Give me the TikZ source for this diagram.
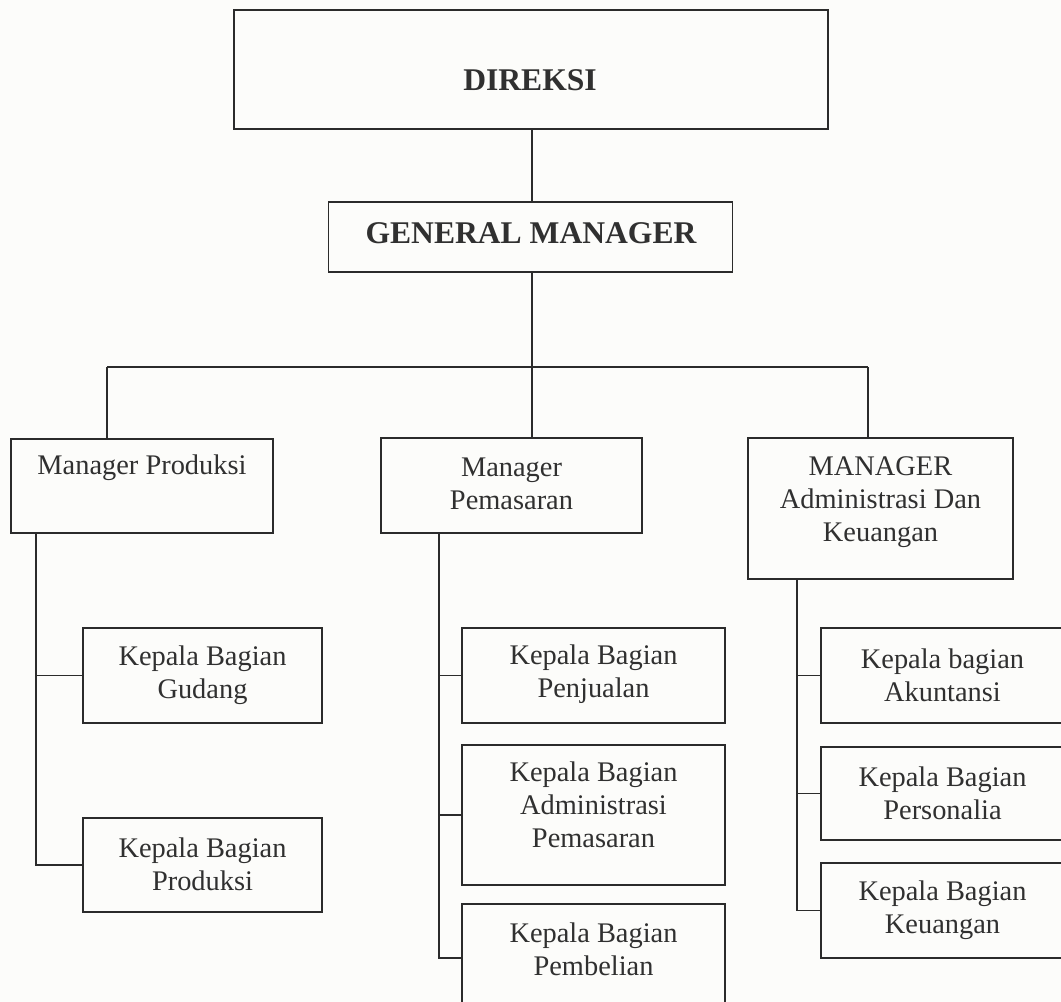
\documentclass[tikz,border=0pt]{standalone}
\usepackage{fontspec}
\setmainfont{Liberation Serif}
\definecolor{ink}{HTML}{2B2B2B}
\definecolor{txtc}{HTML}{303030}
\definecolor{paper}{HTML}{FCFCFA}
\begin{document}
\begin{tikzpicture}[x=0.5pt,y=-0.5pt,
  orgbox/.style={draw=ink, line width=0.9pt, inner sep=0pt, rectangle},
  conn/.style={draw=ink, line width=0.9pt},
  txt/.style={text=txtc, align=center, inner sep=0pt, font=\fontsize{14.2}{16.5}\selectfont},
  btxt/.style={text=txtc, align=center, inner sep=0pt, font=\fontsize{15.8}{18}\selectfont\bfseries}]
\useasboundingbox (0,0) rectangle (1061,1002);
\clip (0,0) rectangle (1061,1002);
\fill[paper] (0,0) rectangle (1061,1002);

% boxes
\node[orgbox, minimum width=297pt, minimum height=59.5pt] (dir) at (531,69.5) {};
\node[orgbox, minimum width=202pt, minimum height=35pt] (gm) at (530.5,237) {};
\node[orgbox, minimum width=131pt, minimum height=47pt] (mp) at (142,486) {};
\node[orgbox, minimum width=130.5pt, minimum height=47.5pt] (mpem) at (511.5,485.5) {};
\node[orgbox, minimum width=132.5pt, minimum height=70.5pt] (mak) at (880.5,508.5) {};
\node[orgbox, minimum width=119.5pt, minimum height=47.5pt] (gud) at (202.5,675.5) {};
\node[orgbox, minimum width=119.5pt, minimum height=47pt] (prod) at (202.5,865) {};
\node[orgbox, minimum width=131.5pt, minimum height=47.5pt] (penj) at (593.5,675.5) {};
\node[orgbox, minimum width=131.5pt, minimum height=70pt] (admp) at (593.5,815) {};
\node[orgbox, minimum width=131.5pt, minimum height=54pt] (pemb) at (593.5,958) {};
\node[orgbox, minimum width=121.5pt, minimum height=47.5pt] (akun) at (942.5,675.5) {};
\node[orgbox, minimum width=121.5pt, minimum height=46.5pt] (pers) at (942.5,793.5) {};
\node[orgbox, minimum width=121.5pt, minimum height=47.5pt] (keu) at (942.5,910.5) {};

% texts
\node[btxt] (dirT) at (530,80) {DIREKSI};
\node[btxt] (gmT) at (531,233) {GENERAL MANAGER};
\node[txt] (mpT) at (142,468) {Manager Produksi};
\node[txt] (mpemT) at (511.5,484) {Manager\\Pemasaran};
\node[txt] (makT) at (880.5,502) {MANAGER\\Administrasi Dan\\Keuangan};
\node[txt] (gudT) at (202.5,675) {Kepala Bagian\\Gudang};
\node[txt] (prodT) at (202.5,864) {Kepala Bagian\\Produksi};
\node[txt] (penjT) at (593.5,674) {Kepala Bagian\\Penjualan};
\node[txt] (admpT) at (593.5,805) {Kepala Bagian\\Administrasi\\Pemasaran};
\node[txt] (pembT) at (593.5,949) {Kepala Bagian\\Pembelian};
\node[txt] (akunT) at (942.5,675) {Kepala bagian\\Akuntansi};
\node[txt] (persT) at (942.5,793) {Kepala Bagian\\Personalia};
\node[txt] (keuT) at (942.5,910) {Kepala Bagian\\Keuangan};

% connector helper coordinates
\coordinate (busL) at (107,367);
\coordinate (busR) at (868,367);
\coordinate (vL) at (36,0);
\coordinate (vM) at (439,0);
\coordinate (vR) at (797,0);
\coordinate (gx) at (532,0);

% top connectors
\draw[conn] (gx |- dir.south) -- (gx |- gm.north);
\draw[conn] (gx |- gm.south) -- (gx |- mpem.north);
\draw[conn] (busL) -- (busR);
\draw[conn] (busL) -- (busL |- mp.north);
\draw[conn] (busR) -- (busR |- mak.north);

% left subtree
\draw[conn] (vL |- mp.south) -- (vL |- prod.west) -- (prod.west);
\draw[conn] (vL |- gud.west) -- (gud.west);

% middle subtree
\draw[conn] (vM |- mpem.south) -- (vM |- pemb.west) -- (pemb.west);
\draw[conn] (vM |- penj.west) -- (penj.west);
\draw[conn] (vM |- admp.west) -- (admp.west);

% right subtree
\draw[conn] (vR |- mak.south) -- (vR |- keu.west) -- (keu.west);
\draw[conn] (vR |- akun.west) -- (akun.west);
\draw[conn] (vR |- pers.west) -- (pers.west);
\end{tikzpicture}
\end{document}
